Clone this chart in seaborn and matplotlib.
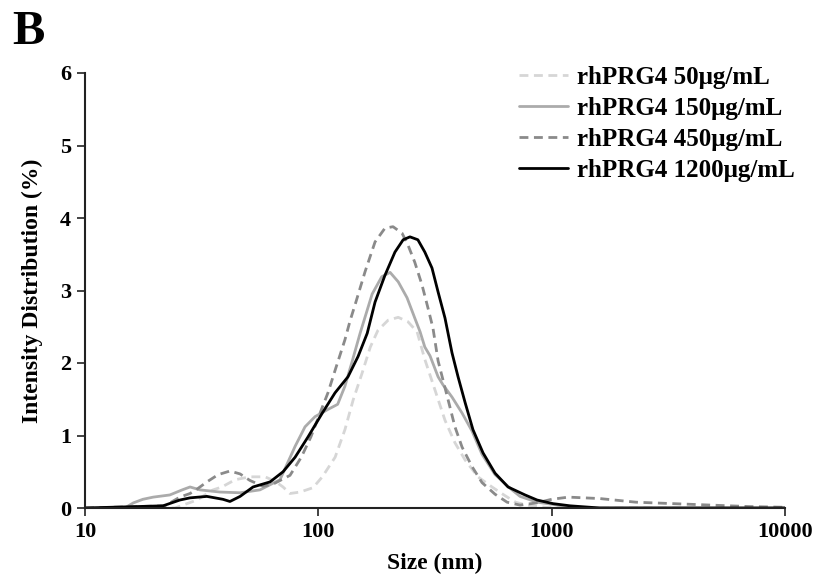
import numpy as np
import pandas as pd
import seaborn as sns
import matplotlib
matplotlib.use("Agg")
import matplotlib.pyplot as plt
from matplotlib.ticker import FixedLocator, NullLocator, FixedFormatter

# ---- data (size in nm, intensity %) ----
size_50 = [10, 24.3, 30.2, 35.4, 38.6, 44.0, 50.9, 59.1, 65.2, 70.6, 75.6, 83.5, 94.9, 104, 118, 130, 141,
           154, 167, 180, 199, 220, 242, 265, 286, 316, 349, 385, 426, 483, 555, 631, 700, 783, 937, 1087,
           10000]
val_50 = [0, 0, 0.11, 0.25, 0.29, 0.39, 0.43, 0.43, 0.37, 0.29, 0.20, 0.22, 0.28, 0.43, 0.70, 1.08, 1.49,
          1.86, 2.22, 2.45, 2.59, 2.63, 2.57, 2.43, 2.05, 1.63, 1.21, 0.90, 0.66, 0.43, 0.29, 0.17, 0.08,
          0.04, 0.01, 0, 0]

size_150 = [10, 14.8, 16.1, 17.7, 19.6, 23.1, 26.1, 28.2, 31.1, 37.9, 46.2, 56.2, 68.5, 79.5, 87.7, 96.8,
            110, 121, 130, 139, 151, 170, 187, 203, 220, 240, 259, 273, 286, 301, 326, 342, 374, 413, 456,
            503, 572, 676, 732, 866, 1014, 1260, 10000]
val_150 = [0, 0, 0.07, 0.12, 0.15, 0.18, 0.25, 0.29, 0.25, 0.22, 0.21, 0.25, 0.39, 0.85, 1.12, 1.26,
           1.36, 1.43, 1.68, 2.00, 2.41, 2.95, 3.19, 3.25, 3.12, 2.90, 2.62, 2.43, 2.22, 2.10, 1.81, 1.70,
           1.53, 1.31, 1.06, 0.74, 0.46, 0.25, 0.16, 0.08, 0.05, 0, 0]

size_450 = [10, 22.0, 25.5, 28.2, 30.2, 33.3, 37.2, 41.8, 46.2, 50.9, 57.9, 64.0, 75.6, 84.5, 92.9, 104,
            110, 118, 130, 137, 143.6, 158.6, 175, 193, 209, 228.5, 242, 259, 278, 295, 310, 326, 360, 385,
            413, 456, 503, 572, 644, 732, 860, 1000, 1180, 1612, 2300, 4000, 7000, 10000]
val_450 = [0, 0.03, 0.15, 0.20, 0.26, 0.36, 0.46, 0.51, 0.47, 0.38, 0.30, 0.33, 0.45, 0.70, 0.98, 1.39,
           1.59, 1.90, 2.32, 2.59, 2.80, 3.26, 3.67, 3.86, 3.88, 3.79, 3.63, 3.39, 3.08, 2.76, 2.48, 2.03,
           1.49, 1.12, 0.84, 0.57, 0.35, 0.19, 0.08, 0.04, 0.07, 0.12, 0.15, 0.13, 0.08, 0.05, 0.02, 0.01]

size_1200 = [10, 21.6, 25.5, 28.2, 33.3, 39.0, 41.8, 46.2, 52.5, 62.1, 70.6, 79.5, 90.3, 104, 118, 134,
             148, 162, 175, 193, 213, 231, 247, 267, 286, 307, 326, 349, 374, 397, 426, 460, 508, 572, 650,
             769, 866, 1014, 1199, 1612, 10000]
val_1200 = [0, 0.03, 0.11, 0.14, 0.16, 0.12, 0.09, 0.16, 0.29, 0.36, 0.50, 0.70, 0.98, 1.31, 1.59, 1.81,
            2.09, 2.41, 2.84, 3.21, 3.53, 3.70, 3.74, 3.70, 3.53, 3.31, 2.98, 2.62, 2.14, 1.81, 1.45, 1.08,
            0.76, 0.48, 0.29, 0.18, 0.11, 0.06, 0.03, 0, 0]

labels = ["rhPRG4 50\u03bcg/mL", "rhPRG4 150\u03bcg/mL", "rhPRG4 450\u03bcg/mL", "rhPRG4 1200\u03bcg/mL"]
x_ticks = [10, 100, 1000, 10000]
x_tick_labels = ["10", "100", "1000", "10000"]
y_ticks = [0, 1, 2, 3, 4, 5, 6]

sns.set_theme(style="white")
plt.rcParams['font.family'] = ['Liberation Serif', 'DejaVu Serif']
plt.rcParams['font.weight'] = 'bold'
plt.rcParams['text.color'] = 'black'
plt.rcParams['axes.labelcolor'] = 'black'
plt.rcParams['xtick.color'] = 'black'
plt.rcParams['ytick.color'] = 'black'

fig = plt.figure(figsize=(8.15, 5.85), dpi=100)
ax = fig.add_axes([85/815, 1-508/585, 700/815, 435/585])

series = [
    (size_50, val_50, labels[0], "#d6d6d6", (0, (3.2, 2.0))),
    (size_150, val_150, labels[1], "#ababab", "-"),
    (size_450, val_450, labels[2], "#8a8a8a", (0, (3.2, 2.0))),
    (size_1200, val_1200, labels[3], "#000000", "-"),
]
for xs, ys, lab, col, ls in series:
    df = pd.DataFrame({"size": xs, "val": ys})
    sns.lineplot(data=df, x="size", y="val", ax=ax, color=col, linestyle=ls,
                 linewidth=2.0, label=lab, estimator=None, sort=False)

ax.set_xscale("log")
ax.set_xlim(10, 10000)
ax.set_ylim(0, 6)
ax.xaxis.set_major_locator(FixedLocator(x_ticks))
ax.xaxis.set_major_formatter(FixedFormatter(x_tick_labels))
ax.xaxis.set_minor_locator(NullLocator())
ax.set_yticks(y_ticks)
ax.set_yticklabels([str(v) for v in y_ticks])

for s in ["top", "right"]:
    ax.spines[s].set_visible(False)
for s in ["left", "bottom"]:
    ax.spines[s].set_color("#222222")
    ax.spines[s].set_linewidth(1.5)
ax.tick_params(axis="both", which="major", direction="out", length=6, width=1.2,
               color="#222222", labelcolor="black", labelsize=16, pad=4, bottom=True, left=True)
for t in ax.get_xticklabels() + ax.get_yticklabels():
    t.set_fontweight("bold")

ax.set_xlabel("Size (nm)", fontsize=17, fontweight="bold", labelpad=8, color="black")
ax.set_ylabel("Intensity Distribution (%)", fontsize=17, fontweight="bold", labelpad=12, color="black")

leg = ax.legend(loc="upper right", bbox_to_anchor=(1.028, 1.04), frameon=False,
                prop={"size": 18, "weight": "bold"}, handlelength=1.95, handletextpad=0.35,
                labelspacing=0.32, borderaxespad=0)
for t in leg.get_texts():
    t.set_color("black")

fig.text(12/815, 1-44/585, "B", fontsize=35, fontweight="bold", color="black")

fig.savefig("out.png", dpi=100)
